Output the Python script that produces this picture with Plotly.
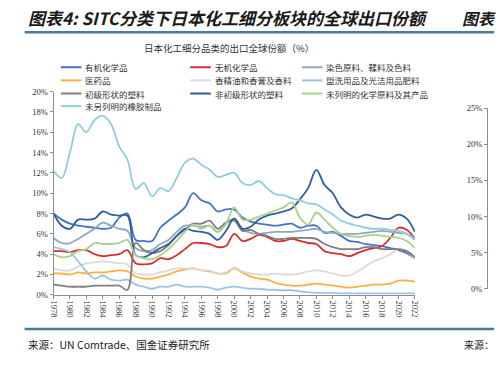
import plotly.graph_objects as go

W, H = 499, 365

years = list(range(1978, 2023))
tick_years = list(range(1978, 2023, 2))

names = ["有机化学品", "无机化学品", "染色原料、鞣料及色料",
         "医药品", "香精油和香膏及香料", "盥洗用品及光洁用品肥料",
         "初级形状的塑料", "非初级形状的塑料", "未列明的化学原料及其产品",
         "未另列明的橡胶制品"]

organic = [8.0,7.4,7.0,6.8,6.7,6.6,6.5,6.6,7.6,8.0, 5.4,5.3,5.3,6.6,7.3,7.9,8.6,10.0,9.3,9.0,
           8.2,8.4,8.4,7.6,7.2,7.0,6.9,6.8,6.9,7.0, 6.6,6.8,6.8,6.1,6.2,5.8,5.3,5.2,5.0,4.9,
           4.8,4.6,4.4,4.1,3.6]
inorganic = [4.3,4.3,4.2,4.4,4.4,4.0,3.8,3.9,4.0,4.4, 3.1,3.0,3.1,3.6,3.5,3.9,4.5,5.1,5.1,5.0,
             4.7,4.8,6.0,5.3,5.5,5.9,5.7,5.3,5.3,5.5, 5.3,5.1,5.0,4.3,4.1,4.0,3.8,4.1,4.4,4.6,
             4.8,5.6,6.6,6.4,5.5]
dyes = [5.6,5.1,5.1,5.5,6.0,6.5,7.1,6.8,6.5,6.3, 4.6,4.3,4.4,5.0,5.4,6.2,6.8,6.8,6.7,6.8,
        6.2,7.0,7.5,6.5,6.1,6.0,6.1,6.2,6.2,6.2, 6.3,6.4,6.5,6.2,6.1,6.0,6.0,6.0,6.1,6.2,
        6.3,6.2,6.1,6.0,5.4]
medicine = [2.1,2.1,2.0,2.2,2.1,2.2,2.2,2.3,2.4,2.3, 1.8,1.6,1.6,1.8,2.0,2.3,2.5,2.6,2.4,2.3,
            2.1,2.1,2.6,2.2,1.8,1.6,1.5,1.2,1.0,0.9, 0.9,1.0,1.1,1.0,0.9,0.8,0.7,0.8,0.9,1.0,
            1.0,1.1,1.4,1.4,1.3]
essential = [2.6,2.4,2.4,2.8,3.1,3.2,3.3,3.2,3.1,3.0, 2.1,2.0,2.0,2.2,2.4,2.6,2.6,2.6,2.4,2.4,
             2.1,2.2,2.7,2.3,2.1,2.0,2.0,2.1,2.0,2.0, 2.1,2.3,2.4,2.3,2.1,1.9,1.9,2.3,2.8,3.3,
             3.6,4.0,4.5,4.3,3.6]
toilet = [4.7,4.5,4.2,3.3,2.3,1.6,1.9,1.5,1.4,1.5, 1.0,0.8,0.6,0.8,0.8,1.0,0.8,0.8,0.8,0.7,
          0.5,0.7,0.8,0.7,0.6,0.6,0.5,0.5,0.45,0.45, 0.35,0.25,0.2,0.2,0.2,0.15,0.15,0.15,0.15,0.15,
          0.15,0.15,0.15,0.15,0.15]
primary_plastics = [1.0,0.9,0.8,0.8,0.8,0.9,0.9,0.9,0.9,0.5, 5.1,4.4,4.1,4.3,4.9,5.8,6.4,7.0,7.0,7.3,
                    6.5,7.1,7.3,6.3,6.4,6.0,5.8,5.5,5.5,5.6, 5.6,5.6,5.5,5.0,4.7,4.5,4.5,4.5,4.7,4.7,
                    4.5,4.5,4.5,4.3,3.7]
nonprimary_plastics = [8.0,6.8,6.5,7.4,7.4,7.5,8.2,7.9,7.8,7.8, 3.9,3.7,4.1,4.6,5.0,5.8,6.5,6.3,6.2,6.0,
                       5.4,6.3,7.5,6.5,6.7,7.4,7.8,8.0,8.2,8.5, 9.4,10.5,12.3,10.8,10.0,8.6,7.9,7.6,7.9,7.7,
                       7.5,7.5,7.9,7.5,6.2]
chem_nes = [3.95,3.7,3.8,4.3,4.5,5.1,5.0,5.0,5.1,5.4, 3.9,3.6,3.5,3.9,4.5,5.3,6.2,6.9,6.5,6.8,
            6.2,7.0,8.6,7.4,7.4,7.7,8.0,8.3,8.6,9.1, 7.6,6.9,8.1,7.4,6.6,6.0,5.8,5.7,5.8,5.9,
            5.8,5.7,5.6,5.3,4.6]
rubber = [12.2,11.5,14.0,16.8,16.0,17.2,17.6,16.8,14.6,13.3, 10.4,11.0,9.7,10.5,10.2,11.5,13.0,13.4,12.8,12.3,
          11.6,11.8,12.0,11.0,10.8,11.2,10.5,9.9,9.8,9.5, 9.3,9.0,8.9,8.4,7.9,7.3,7.0,6.8,6.6,6.5,
          6.5,6.4,6.3,6.0,5.5]

series = [organic, inorganic, dyes, medicine, essential, toilet,
          primary_plastics, nonprimary_plastics, chem_nes, rubber]
colors = ["#4472C4", "#D32F2F", "#8EAAC0", "#FFAE42", "#DADADA", "#9DC3E6",
          "#7F7F7F", "#2E5E9E", "#A9D18E", "#92CDDF"]

right_ticks = [0, 5, 10, 15, 20, 25]

CJK = "Noto Sans CJK SC"
SERIF = "Liberation Serif"


def px(x):
    return x / W


def py(y):
    return 1 - y / H


fig = go.Figure()
for name, vals, col in zip(names, series, colors):
    fig.add_trace(go.Scatter(x=years, y=vals, name=name, mode="lines",
                             line=dict(color=col, width=1.8, shape="spline", smoothing=1.0),
                             showlegend=False, xaxis="x", yaxis="y"))

# empty trace for the cut-off neighbouring chart axis
fig.add_trace(go.Scatter(x=[], y=[], xaxis="x2", yaxis="y2", showlegend=False))

axis_col = "#8C8C8C"
fig.update_layout(
    width=W, height=H,
    margin=dict(l=0, r=0, t=0, b=0),
    paper_bgcolor="white", plot_bgcolor="white",
    showlegend=False,
    xaxis=dict(domain=[px(49.5), px(418.3)], range=[1978, 2022],
               tickmode="array", tickvals=tick_years, ticktext=[str(y) for y in tick_years],
               tickangle=90, ticks="outside", ticklen=3, tickcolor=axis_col,
               showline=True, linecolor=axis_col, linewidth=1, showgrid=False, zeroline=False,
               tickfont=dict(family=SERIF, size=8.5, color="#333")),
    yaxis=dict(domain=[py(298), py(89)], range=[0, 20], dtick=2, ticksuffix="%",
               ticks="outside", ticklen=3, tickcolor=axis_col,
               showline=True, linecolor=axis_col, linewidth=1, showgrid=False, zeroline=False,
               tickfont=dict(family=SERIF, size=8.5, color="#333")),
    xaxis2=dict(domain=[px(493), 1.0], range=[0, 1], anchor="y2", visible=False),
    yaxis2=dict(domain=[py(292), py(106)], range=[0, 25], anchor="x2",
                tickmode="array", tickvals=right_ticks, ticktext=[f"{t}%" for t in right_ticks],
                ticks="outside", ticklen=3, tickcolor=axis_col,
                showline=True, linecolor=axis_col, linewidth=1, showgrid=False, zeroline=False,
                tickfont=dict(family=SERIF, size=8.5, color="#333")),
)

shapes = []
annotations = []
# header and footer rules
for yy in (28, 333):
    shapes.append(dict(type="line", xref="paper", yref="paper", x0=px(20), x1=1.0,
                       y0=py(yy), y1=py(yy), line=dict(color="#4A7B9D", width=2.5)))

annotations.append(dict(text="<b><i>图表4: SITC分类下日本化工细分板块的全球出口份额</i></b>",
                        xref="paper", yref="paper", x=px(21), y=py(13), xanchor="left", yanchor="middle",
                        showarrow=False, font=dict(family=CJK, size=17, color="#1a1a1a")))
annotations.append(dict(text="<b><i>图表</i></b>",
                        xref="paper", yref="paper", x=px(464), y=py(13), xanchor="left", yanchor="middle",
                        showarrow=False, font=dict(family=CJK, size=16, color="#1a1a1a")))
annotations.append(dict(text="日本化工细分品类的出口全球份额（%）",
                        xref="paper", yref="paper", x=px(229), y=py(44), xanchor="center", yanchor="middle",
                        showarrow=False, font=dict(family=CJK, size=9.5, color="#333")))
annotations.append(dict(text="来源：UN Comtrade、国金证券研究所",
                        xref="paper", yref="paper", x=px(21), y=py(349), xanchor="left", yanchor="middle",
                        showarrow=False, font=dict(family=CJK, size=10.5, color="#222")))
annotations.append(dict(text="来源：",
                        xref="paper", yref="paper", x=px(466), y=py(349), xanchor="left", yanchor="middle",
                        showarrow=False, font=dict(family=CJK, size=10, color="#222")))

# legend drawn in a 3-column grid
col_x = [57, 189, 303]
row_y = [64, 77.5, 91, 104]
for i, (name, col) in enumerate(zip(names, colors)):
    r, c = divmod(i, 3)
    x0 = col_x[c]
    yy = row_y[r]
    shapes.append(dict(type="line", xref="paper", yref="paper", x0=px(x0), x1=px(x0 + 21),
                       y0=py(yy), y1=py(yy), line=dict(color=col, width=2)))
    annotations.append(dict(text=name, xref="paper", yref="paper", x=px(x0 + 23), y=py(yy),
                            xanchor="left", yanchor="middle", showarrow=False,
                            font=dict(family=CJK, size=8.5, color="#333")))

fig.update_layout(shapes=shapes, annotations=annotations)
fig.write_html("out.html", config={"displayModeBar": False},
               post_script="document.body.style.margin='0px';document.body.style.padding='0px';")
